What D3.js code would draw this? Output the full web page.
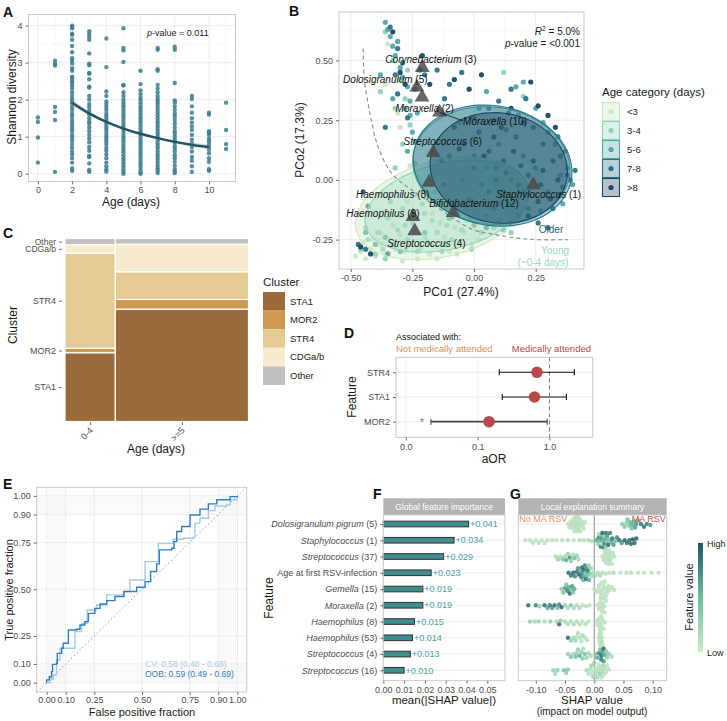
<!DOCTYPE html>
<html>
<head>
<meta charset="utf-8">
<title></title>
<script src="https://d3js.org/d3.v7.min.js"></script>
<style>
body { margin: 0; background: #fff; }
svg { display: block; }
</style>
</head>
<body>
<div id="chart-container"></div>
<script>
// ---------------- data: A (Shannon diversity by age) ----------------
const ageDays = [0, 1, 2, 3, 4, 5, 6, 7, 8, 9, 10, 11];
const shannonAge0 = [1.52, 1.40, 0.98, 0.30];
const shannonAge1 = [3.05, 2.97, 2.92, 1.80, 1.67, 1.45, 0.05];
const shannonAge2 = [4.0, 3.97, 3.93, 3.78, 3.75, 3.62, 3.45, 3.28, 3.12, 3.05, 2.98, 2.85, 2.78, 2.62, 2.58, 2.5, 2.45, 2.38, 2.3, 2.2, 2.1, 2.02, 1.95, 1.9, 1.8, 1.72, 1.62, 1.55, 1.45, 1.38, 1.3, 1.22, 1.15, 1.05, 0.98, 0.9, 0.8, 0.7, 0.6, 0.52, 0.42, 0.3, 0.15, 0.08];
const shannonAge3 = [3.85, 3.78, 3.7, 3.62, 3.25, 2.97, 2.93, 2.72, 2.7, 2.55, 2.35, 2.33, 2.1, 2.0, 1.88, 1.8, 1.7, 1.6, 1.5, 1.42, 1.35, 1.25, 1.15, 1.05, 0.95, 0.85, 0.72, 0.62, 0.48, 0.45, 0.28, 0.1, 0.05];
const shannonAge4 = [3.65, 2.88, 2.22, 2.1, 1.95, 1.88, 1.8, 1.72, 1.62, 1.55, 1.48, 1.4, 1.32, 1.25, 1.18, 1.1, 1.02, 0.95, 0.88, 0.8, 0.7, 0.62, 0.52, 0.42, 0.3, 0.2, 0.12, 0.06];
const shannonAge5 = [3.93, 3.4, 3.33, 3.02, 2.4, 2.38, 2.2, 2.1, 2.0, 1.92, 1.85, 1.78, 1.7, 1.62, 1.55, 1.48, 1.4, 1.32, 1.25, 1.18, 1.1, 1.02, 0.95, 0.88, 0.8, 0.72, 0.65, 0.58, 0.5, 0.42, 0.35, 0.28, 0.2, 0.12, 0.05, 0.0];
const shannonAge6 = [2.78, 2.42, 2.25, 2.15, 2.05, 1.98, 1.9, 1.82, 1.75, 1.68, 1.6, 1.52, 1.45, 1.38, 1.3, 1.22, 1.15, 1.08, 1.0, 0.92, 0.85, 0.78, 0.7, 0.62, 0.55, 0.48, 0.4, 0.32, 0.25, 0.18, 0.1, 0.03, 0.0];
const shannonAge7 = [3.4, 3.35, 2.82, 2.78, 2.4, 2.3, 2.2, 2.1, 2.02, 1.95, 1.88, 1.8, 1.72, 1.65, 1.58, 1.5, 1.42, 1.35, 1.28, 1.2, 1.12, 1.05, 0.98, 0.9, 0.82, 0.75, 0.68, 0.6, 0.52, 0.45, 0.38, 0.3, 0.22, 0.15, 0.08, 0.02];
const shannonAge8 = [3.43, 3.35, 2.45, 1.98, 1.92, 1.82, 1.72, 1.62, 1.55, 1.45, 1.35, 1.25, 1.15, 1.08, 1.0, 0.92, 0.85, 0.75, 0.68, 0.6, 0.5, 0.42, 0.32, 0.22, 0.12, 0.05, 0.02];
const shannonAge9 = [2.1, 2.02, 1.82, 1.65, 1.5, 1.38, 1.28, 1.18, 1.05, 0.92, 0.82, 0.72, 0.6, 0.45, 0.35, 0.2, 0.05];
const shannonAge10 = [1.65, 1.6, 1.15, 1.1, 1.05, 0.95, 0.88, 0.8, 0.72, 0.65, 0.55, 0.42, 0.32, 0.12, 0.08];
const shannonAge11 = [1.92, 1.18, 0.8, 0.67];
const shannonByAge = [shannonAge0, shannonAge1, shannonAge2, shannonAge3, shannonAge4, shannonAge5,
    shannonAge6, shannonAge7, shannonAge8, shannonAge9, shannonAge10, shannonAge11];
const fitAge = [2, 3, 4, 5, 6, 7, 8, 9, 10];
const fitMean = [1.92, 1.63, 1.40, 1.22, 1.08, 0.96, 0.86, 0.78, 0.72];
const fitLow = [1.84, 1.58, 1.37, 1.19, 1.05, 0.93, 0.83, 0.73, 0.65];
const fitHigh = [2.00, 1.68, 1.43, 1.25, 1.11, 0.99, 0.89, 0.83, 0.79];

// ---------------- data: B (PCoA) ----------------
const ageCats = ['<3', '3-4', '5-6', '7-8', '>8'];
const ageColors = ['#cce8c3', '#8ed3bb', '#52a6a6', '#2a7389', '#1a4862'];
const pcoaLt3 = [[-0.48,-0.32],[-0.46,-0.30],[-0.44,-0.33],[-0.42,-0.29],[-0.40,-0.32],[-0.38,-0.27],[-0.36,-0.31],[-0.34,-0.25],[-0.32,-0.29],[-0.30,-0.23],[-0.28,-0.30],[-0.26,-0.27],[-0.24,-0.20],[-0.22,-0.29],[-0.20,-0.24],[-0.18,-0.31],[-0.16,-0.27],[-0.14,-0.18],[-0.12,-0.24],[-0.10,-0.30],[-0.08,-0.20],[-0.06,-0.26],[-0.04,-0.22],[-0.01,-0.27],[0.02,-0.25],[-0.30,-0.15],[-0.27,-0.09],[-0.22,0.01],[-0.35,0.57],[-0.31,0.28],[-0.19,-0.08],[-0.25,-0.13],[-0.33,-0.19],[-0.45,-0.26],[-0.15,-0.33],[-0.03,-0.17],[-0.11,-0.12],[-0.20,-0.04],[-0.38,-0.22],[-0.41,-0.25],[-0.29,-0.34],[-0.17,-0.14],[-0.07,-0.31],[-0.23,-0.33],[-0.13,-0.09],[-0.26,0.06],[-0.36,0.40],[-0.30,0.22]];
const pcoa3to4 = [[-0.46,-0.29],[-0.43,-0.25],[-0.39,-0.22],[-0.37,-0.29],[-0.35,-0.16],[-0.33,-0.27],[-0.31,-0.21],[-0.29,-0.12],[-0.27,-0.25],[-0.25,-0.18],[-0.23,-0.30],[-0.21,-0.10],[-0.19,-0.26],[-0.17,-0.17],[-0.15,-0.22],[-0.13,-0.30],[-0.11,-0.19],[-0.09,-0.25],[-0.07,-0.13],[-0.05,-0.21],[-0.02,-0.16],[0.03,-0.22],[0.08,-0.20],[-0.36,0.62],[-0.33,0.50],[-0.30,0.42],[-0.28,0.34],[-0.26,0.23],[-0.29,0.15],[-0.24,0.07],[-0.18,0.02],[-0.38,0.37],[-0.32,0.05],[0.12,0.45],[0.20,0.35],[0.06,-0.12],[-0.40,-0.31],[-0.44,-0.20],[-0.34,-0.09],[-0.24,-0.06],[-0.16,-0.05],[-0.08,-0.09],[0.00,-0.11],[-0.20,-0.14],[-0.28,-0.19],[-0.12,-0.27],[0.10,-0.17],[0.15,-0.22],[-0.32,0.30],[-0.27,0.46],[-0.06,0.24],[0.02,0.04],[-0.36,-0.33],[-0.01,-0.29]];
const pcoa5to6 = [[-0.36,0.66],[-0.35,0.63],[-0.34,0.60],[-0.33,0.56],[-0.32,0.52],[-0.30,0.47],[-0.29,0.43],[-0.27,0.39],[-0.28,0.30],[-0.26,0.27],[-0.25,0.20],[-0.27,0.12],[-0.24,0.16],[-0.33,0.34],[-0.38,0.44],[0.00,0.10],[0.05,0.05],[0.10,0.15],[0.15,0.00],[0.20,0.10],[0.25,0.05],[0.30,-0.05],[0.35,0.02],[0.38,0.05],[0.30,0.20],[0.25,0.30],[0.18,0.27],[0.10,-0.10],[0.05,-0.15],[-0.05,0.00],[-0.10,0.10],[0.08,0.25],[0.28,0.24],[0.33,0.15],[0.15,-0.18],[0.22,-0.12],[-0.44,-0.22],[-0.40,-0.27],[-0.36,-0.24],[-0.30,-0.30],[-0.20,-0.22],[-0.10,-0.16],[0.00,-0.19],[0.12,-0.21],[0.20,0.41],[0.05,0.37],[0.17,0.39],[-0.31,0.58],[-0.26,0.33],[-0.23,0.28],[0.02,0.30],[0.13,0.21],[0.36,-0.10],[0.40,-0.02],[0.27,-0.13]];
const pcoa7to8 = [[-0.34,0.64],[-0.31,0.55],[-0.29,0.49],[-0.31,0.36],[-0.27,0.26],[-0.22,0.46],[-0.20,0.44],[-0.15,0.46],[-0.12,0.34],[-0.10,0.40],[-0.05,0.45],[-0.36,0.22],[-0.45,-0.05],[-0.43,-0.11],[-0.47,-0.27],[-0.44,-0.29],[-0.35,-0.31],[-0.08,0.22],[-0.04,0.15],[0.02,0.20],[0.06,0.12],[0.12,0.08],[0.17,0.18],[0.22,0.02],[0.27,-0.02],[0.32,0.08],[0.36,-0.03],[0.39,0.00],[0.12,-0.05],[0.03,-0.02],[-0.02,-0.08],[0.08,-0.12],[0.18,-0.15],[0.26,-0.18],[0.32,-0.12],[0.35,0.10],[0.24,0.22],[0.14,0.28],[0.06,0.30],[0.00,0.26],[0.10,0.33],[0.28,0.15],[0.34,0.18],[0.37,0.12],[0.15,0.38],[0.21,0.34],[-0.12,-0.02],[0.05,-0.20],[0.30,-0.20],[-0.32,0.44],[-0.24,0.38],[0.19,0.06],[0.09,0.05],[0.41,0.04]];
const pcoaGt8 = [[-0.33,0.62],[-0.30,0.45],[-0.21,0.52],[-0.18,0.40],[-0.08,0.42],[-0.02,0.38],[0.03,0.44],[-0.46,-0.28],[-0.42,-0.31],[-0.13,0.08],[0.00,0.05],[0.04,0.10],[0.08,0.18],[0.13,0.03],[0.16,0.12],[0.20,-0.05],[0.24,0.08],[0.28,0.04],[0.31,-0.08],[0.34,0.00],[0.38,0.02],[0.30,0.27],[0.26,0.31],[0.20,0.24],[0.11,0.22],[0.06,-0.05],[0.14,-0.10],[0.22,-0.15],[0.09,0.00],[-0.06,0.13],[0.35,-0.06],[0.26,-0.09],[0.33,0.22],[0.15,0.30],[-0.28,0.40],[0.23,0.41],[0.18,-0.02]];
const pcoaByAge = [pcoaLt3, pcoa3to4, pcoa5to6, pcoa7to8, pcoaGt8];
// 95% ellipses per age category: centre, radii, rotation (deg)
const ellipseCx = [-0.13, -0.11, 0.07, 0.075, 0.10];
const ellipseCy = [-0.12, -0.11, 0.06, 0.06, 0.05];
const ellipseRx = [0.36, 0.34, 0.32, 0.325, 0.28];
const ellipseRy = [0.20, 0.18, 0.245, 0.25, 0.23];
const ellipseAngle = [15, 14, -8, -12, -10];
const ellipseOpacity = [0.4, 0.35, 0.38, 0.4, 0.42];
// cluster centroids
const centroidGenus = ['Corynebacterium', 'Dolosigranulum', 'Moraxella', 'Moraxella', 'Streptococcus', 'Haemophilus', 'Bifidobacterium', 'Haemophilus', 'Streptococcus', 'Staphylococcus'];
const centroidNum = ['(3)', '(5)', '(2)', '(10)', '(6)', '(8)', '(12)', '(9)', '(4)', '(1)'];
const centroidX = [-0.21, -0.232, -0.211, -0.14, -0.166, -0.183, -0.085, -0.248, -0.241, 0.24];
const centroidY = [0.47, 0.388, 0.346, 0.283, 0.114, -0.011, -0.137, -0.154, -0.214, -0.021];
const centroidLabelX = [-0.175, -0.36, -0.20, 0.085, -0.127, -0.33, 0.0, -0.37, -0.193, 0.262];
const centroidLabelY = [0.506, 0.42, 0.297, 0.243, 0.160, -0.06, -0.098, -0.14, -0.268, -0.062];
const boundaryX = [-0.45, -0.445, -0.43, -0.417, -0.39, -0.336, -0.27, -0.193, -0.10, -0.004, 0.065, 0.15, 0.25, 0.38];
const boundaryY = [0.55, 0.42, 0.32, 0.25, 0.14, 0.03, -0.03, -0.084, -0.15, -0.209, -0.225, -0.24, -0.25, -0.25];

// ---------------- data: C (cluster mosaic) ----------------
const clusters = ['STA1', 'MOR2', 'STR4', 'CDGa/b', 'Other'];
const clusterColors = ['#9c6b3c', '#cf9a50', '#e3cb93', '#f6ebcf', '#c0c0c0'];
const ageGroups = ['0-4', '>=5'];
const ageGroupN = [51, 135];
const propAge04 = [0.376, 0.024, 0.520, 0.046, 0.034];
const propAge5 = [0.614, 0.053, 0.151, 0.151, 0.031];

// ---------------- data: D (adjusted odds ratios) ----------------
const orFeatures = ['STR4', 'STA1', 'MOR2'];
const orValue = [0.67, 0.62, 0.144];
const orLow = [0.20, 0.22, 0.0224];
const orHigh = [2.22, 1.72, 0.93];
const orSignificant = [false, false, true];

// ---------------- data: E (ROC curves) ----------------
const rocOobFpr = [0, 0, 0.014, 0.026, 0.031, 0.052, 0.056, 0.079, 0.087, 0.114, 0.157, 0.175, 0.201, 0.219, 0.253, 0.280, 0.315, 0.358, 0.406, 0.472, 0.516, 0.545, 0.577, 0.591, 0.656, 0.668, 0.682, 0.708, 0.752, 0.804, 0.848, 0.892, 0.962, 1];
const rocOobTpr = [0, 0.015, 0.032, 0.059, 0.098, 0.104, 0.157, 0.184, 0.211, 0.282, 0.286, 0.309, 0.327, 0.371, 0.398, 0.421, 0.439, 0.461, 0.488, 0.511, 0.541, 0.595, 0.636, 0.711, 0.720, 0.755, 0.809, 0.836, 0.898, 0.929, 0.957, 0.979, 0.996, 1];
const rocCvFpr = [0, 0.02, 0.035, 0.052, 0.070, 0.131, 0.149, 0.184, 0.213, 0.262, 0.315, 0.402, 0.437, 0.516, 0.586, 0.664, 0.717, 0.769, 0.778, 0.804, 0.848, 0.883, 0.944, 0.962, 1];
const rocCvTpr = [0, 0.02, 0.041, 0.121, 0.184, 0.184, 0.273, 0.318, 0.389, 0.416, 0.470, 0.488, 0.550, 0.648, 0.746, 0.768, 0.773, 0.779, 0.854, 0.880, 0.921, 0.946, 0.952, 0.979, 1];
const rocMajor = [0, 0.1, 0.25, 0.5, 0.75, 0.9, 1];
const rocMinor = [0.01, 0.02, 0.03, 0.04, 0.05, 0.06, 0.07, 0.08, 0.09, 0.91, 0.92, 0.93, 0.94, 0.95, 0.96, 0.97, 0.98, 0.99];

// ---------------- data: F (global SHAP importance) ----------------
const featureName = ['Dolosigranulum pigrum', 'Staphylococcus', 'Streptococcus', 'Age at first RSV-infection', 'Gemella', 'Moraxella', 'Haemophilus', 'Haemophilus', 'Streptococcus', 'Streptococcus'];
const featureSuffix = [' (5)', ' (1)', ' (37)', '', ' (15)', ' (2)', ' (8)', ' (53)', ' (4)', ' (16)'];
const featureItalic = [true, true, true, false, true, true, true, true, true, true];
const meanAbsShap = [0.041, 0.034, 0.029, 0.023, 0.019, 0.019, 0.015, 0.014, 0.013, 0.010];

// ---------------- data: G (local SHAP values: [shap, feature value 0-1]) ----------------
const shapDolosigranulum = [[-0.045,0.1],[-0.042,0.1],[-0.04,0.1],[-0.038,0.15],[-0.036,0.1],[-0.035,0.1],[-0.034,0.1],[-0.033,0.1],[-0.032,0.1],[-0.031,0.1],[-0.03,0.1],[-0.03,0.1],[-0.029,0.1],[-0.028,0.1],[-0.027,0.1],[-0.026,0.1],[-0.025,0.1],[-0.024,0.1],[-0.022,0.1],[-0.02,0.1],[-0.018,0.1],[-0.016,0.1],[-0.035,0.1],[-0.03,0.1],[-0.025,0.1],[-0.028,0.1],[-0.032,0.1],[0.048,0.35],[0.052,0.4],[0.055,0.3],[0.057,0.5],[0.06,0.45],[0.062,0.55],[0.064,0.4],[0.066,0.6],[0.068,0.5],[0.07,0.65],[0.072,0.7],[0.075,0.6],[0.08,0.85],[0.085,0.9],[0.09,0.8],[0.096,0.7]];
const shapStaphylococcus = [[-0.118,0.1],[-0.11,0.1],[-0.105,0.1],[-0.1,0.1],[-0.095,0.1],[-0.09,0.1],[-0.085,0.1],[-0.08,0.1],[-0.072,0.1],[-0.065,0.1],[-0.055,0.1],[-0.045,0.15],[-0.035,0.1],[-0.025,0.15],[-0.018,0.1],[-0.01,0.15],[-0.004,0.2],[0.004,0.6],[0.006,0.3],[0.008,0.8],[0.01,0.5],[0.011,0.9],[0.012,0.4],[0.013,0.7],[0.014,0.95],[0.015,0.5],[0.016,0.8],[0.017,0.3],[0.018,0.9],[0.019,0.6],[0.02,0.85],[0.021,0.4],[0.022,0.7],[0.024,0.9],[0.025,0.5],[0.027,0.8],[0.029,0.6],[0.031,0.9],[0.033,0.7],[0.036,0.5],[0.039,0.8],[0.043,0.9],[0.047,0.7],[0.052,0.95],[0.056,0.85],[0.06,0.9],[0.063,0.95],[0.066,1.0],[0.069,0.9],[0.072,0.95],[0.008,0.2],[0.012,0.15],[0.02,0.3]];
const shapStreptococcus37 = [[-0.066,0.2],[-0.062,0.3],[-0.058,0.15],[-0.054,0.4],[-0.05,0.25],[-0.048,0.6],[-0.045,0.3],[-0.042,0.7],[-0.04,0.35],[-0.037,0.2],[-0.034,0.5],[-0.03,0.3],[-0.027,0.2],[0.014,0.1],[0.016,0.1],[0.018,0.1],[0.019,0.1],[0.02,0.1],[0.021,0.1],[0.022,0.1],[0.023,0.1],[0.024,0.1],[0.025,0.1],[0.026,0.1],[0.027,0.1],[0.028,0.1],[0.03,0.1],[0.032,0.1],[0.034,0.1],[0.022,0.1],[0.024,0.1],[0.026,0.1],[0.02,0.1]];
const shapAgeFirstRsv = [[-0.044,0.9],[-0.04,0.85],[-0.036,0.95],[-0.033,0.8],[-0.03,0.9],[-0.028,0.7],[-0.026,0.95],[-0.024,0.6],[-0.022,0.85],[-0.021,0.9],[-0.02,0.75],[-0.019,0.5],[-0.018,0.95],[-0.017,0.6],[-0.016,0.8],[-0.015,0.4],[-0.014,0.9],[-0.013,0.7],[-0.012,0.5],[-0.011,0.85],[-0.01,0.3],[-0.009,0.6],[-0.008,0.4],[-0.006,0.3],[-0.004,0.25],[-0.002,0.2],[0.002,0.2],[0.006,0.15],[0.01,0.2],[0.014,0.15],[0.02,0.1],[0.026,0.1],[0.033,0.15],[0.045,0.1],[0.055,0.1],[0.063,0.1],[0.075,0.1],[0.085,0.1],[0.098,0.1],[0.11,0.1]];
const shapGemella = [[-0.056,0.3],[-0.053,0.5],[-0.05,0.7],[-0.048,0.4],[-0.046,0.8],[-0.044,0.6],[-0.042,0.9],[-0.04,0.5],[-0.038,0.7],[-0.036,0.4],[-0.034,0.6],[0.0,0.1],[0.004,0.1],[0.008,0.1],[0.01,0.1],[0.012,0.1],[0.014,0.1],[0.016,0.1],[0.018,0.1],[0.02,0.1],[0.022,0.1],[0.024,0.1],[0.026,0.1],[0.03,0.1],[0.034,0.1],[0.012,0.1],[0.016,0.1],[0.02,0.1],[0.008,0.1]];
const shapMoraxella2 = [[-0.113,0.9],[-0.1,0.8],[-0.094,0.3],[-0.085,0.9],[-0.08,0.6],[-0.076,0.85],[-0.072,0.7],[-0.068,0.9],[-0.063,0.5],[-0.06,0.8],[-0.056,0.95],[-0.05,0.3],[-0.045,0.2],[-0.04,0.4],[-0.035,0.2],[-0.03,0.15],[-0.025,0.2],[-0.02,0.1],[-0.014,0.15],[-0.008,0.1],[0.006,0.1],[0.008,0.1],[0.01,0.1],[0.012,0.1],[0.013,0.1],[0.014,0.1],[0.016,0.1],[0.018,0.1],[0.02,0.1],[0.011,0.1],[0.015,0.1],[0.017,0.1]];
const shapHaemophilus8 = [[-0.11,0.3],[-0.102,0.2],[-0.095,0.25],[-0.085,0.2],[-0.075,0.3],[-0.065,0.2],[-0.06,0.9],[-0.058,0.4],[-0.05,0.2],[-0.045,0.15],[-0.04,0.2],[-0.035,0.15],[-0.03,0.2],[-0.025,0.15],[-0.02,0.1],[-0.015,0.15],[-0.01,0.1],[0.004,0.1],[0.006,0.1],[0.008,0.1],[0.01,0.1],[0.012,0.1],[0.014,0.1],[0.016,0.1],[0.018,0.1],[0.01,0.1],[0.012,0.1]];
const shapHaemophilus53 = [[-0.045,0.9],[-0.04,0.3],[-0.036,0.2],[-0.032,0.25],[-0.028,0.2],[-0.024,0.15],[-0.02,0.2],[-0.016,0.15],[-0.012,0.1],[-0.03,0.1],[-0.022,0.1],[0.008,0.1],[0.009,0.1],[0.01,0.1],[0.011,0.1],[0.012,0.1],[0.013,0.1],[0.014,0.1],[0.01,0.1],[0.012,0.1],[0.011,0.1],[0.013,0.1],[0.009,0.1]];
const shapStreptococcus4 = [[-0.045,0.3],[-0.04,0.4],[-0.036,0.2],[-0.032,0.5],[-0.028,0.3],[-0.025,0.6],[-0.022,0.35],[-0.019,0.2],[-0.016,0.45],[-0.013,0.3],[-0.01,0.25],[-0.006,0.2],[-0.03,0.3],[-0.02,0.4],[0.002,0.4],[0.005,0.6],[0.008,0.8],[0.01,0.5],[0.012,0.9],[0.014,0.7],[0.016,0.95],[0.018,0.6],[0.02,0.4],[0.022,0.3],[0.025,0.3],[0.03,0.2],[0.012,0.85],[0.016,0.7]];
const shapStreptococcus16 = [[-0.07,0.3],[-0.067,0.2],[-0.063,0.35],[-0.052,0.5],[-0.048,0.3],[-0.045,0.4],[-0.013,0.2],[-0.01,0.1],[-0.007,0.15],[-0.004,0.1],[-0.002,0.2],[0.0,0.1],[0.002,0.15],[0.004,0.1],[0.006,0.2],[0.008,0.1],[0.01,0.15],[0.012,0.1],[0.014,0.2],[0.016,0.1],[0.018,0.15],[0.02,0.1],[0.022,0.1],[0.025,0.1],[-0.005,0.3],[0.005,0.25],[0.01,0.3],[0.0,0.3],[0.015,0.25]];
const shapRows = [shapDolosigranulum, shapStaphylococcus, shapStreptococcus37, shapAgeFirstRsv, shapGemella,
    shapMoraxella2, shapHaemophilus8, shapHaemophilus53, shapStreptococcus4, shapStreptococcus16];

// ---------------- drawing ----------------
const font = '"Liberation Sans", Arial, Helvetica, sans-serif';
const tickColor = '#4d4d4d';
const gridMajor = '#ebebeb';
const gridMinor = '#f5f5f5';
const borderColor = '#c9c9c9';

const svg = d3.select('#chart-container').append('svg')
    .attr('width', 727).attr('height', 721)
    .style('font-family', font);

function addText(x, y, txt, size, opts = {}) {
    const t = svg.append('text').attr('x', x).attr('y', y)
        .attr('font-size', size).attr('fill', opts.fill || '#1a1a1a')
        .attr('text-anchor', opts.anchor || 'start')
        .text(txt);
    if (opts.weight) t.attr('font-weight', opts.weight);
    if (opts.italic) t.attr('font-style', 'italic');
    if (opts.rotate) t.attr('transform', `rotate(${opts.rotate},${x},${y})`);
    return t;
}

function frame(x0, y0, x1, y1) {
    svg.append('rect').attr('x', x0).attr('y', y0)
        .attr('width', x1 - x0).attr('height', y1 - y0)
        .attr('fill', 'none').attr('stroke', borderColor).attr('stroke-width', 1);
}

function vGrid(xs, vals, y0, y1, color, w) {
    svg.append('g').selectAll('line').data(vals).join('line')
        .attr('x1', d => xs(d)).attr('x2', d => xs(d))
        .attr('y1', y0).attr('y2', y1)
        .attr('stroke', color).attr('stroke-width', w);
}

function hGrid(ys, vals, x0, x1, color, w) {
    svg.append('g').selectAll('line').data(vals).join('line')
        .attr('y1', d => ys(d)).attr('y2', d => ys(d))
        .attr('x1', x0).attr('x2', x1)
        .attr('stroke', color).attr('stroke-width', w);
}

function drawAxis(axis, tx, ty, size = 9) {
    const g = svg.append('g').attr('transform', `translate(${tx},${ty})`).call(axis);
    g.attr('font-family', font).attr('font-size', size);
    g.select('.domain').remove();
    g.selectAll('.tick line').attr('stroke', '#333').attr('stroke-width', 0.7);
    g.selectAll('.tick text').attr('fill', tickColor);
    return g;
}

// panel letters
[['A', 3, 17], ['B', 289, 16], ['C', 3, 238], ['D', 344, 338], ['E', 3, 489], ['F', 373, 499], ['G', 510, 499]]
    .forEach(p => addText(p[1], p[2], p[0], 14, { weight: 'bold', fill: '#111' }));

// ===== A =====
(function panelA() {
    const x0 = 28.5, x1 = 235.5, y0 = 14.5, y1 = 181.5;
    const xA = d3.scaleLinear().domain([-0.55, 11.55]).range([x0, x1]);
    const yA = d3.scaleLinear().domain([-0.21, 4.3]).range([y1, y0]);
    vGrid(xA, [1, 3, 5, 7, 9, 11], y0, y1, gridMinor, 0.6);
    hGrid(yA, [0.5, 1.5, 2.5, 3.5], x0, x1, gridMinor, 0.6);
    vGrid(xA, [0, 2, 4, 6, 8, 10], y0, y1, gridMajor, 0.9);
    hGrid(yA, [0, 1, 2, 3, 4], x0, x1, gridMajor, 0.9);

    const pts = [];
    shannonByAge.forEach((vals, i) => vals.forEach(v => pts.push([ageDays[i], v])));
    svg.append('g').selectAll('circle').data(pts).join('circle')
        .attr('cx', d => xA(d[0])).attr('cy', d => yA(d[1])).attr('r', 2.2)
        .attr('fill', '#3b7d8f').attr('fill-opacity', 0.85);

    const fit = fitAge.map((a, i) => ({ a, m: fitMean[i], lo: fitLow[i], hi: fitHigh[i] }));
    svg.append('path').datum(fit)
        .attr('d', d3.area().curve(d3.curveMonotoneX).x(d => xA(d.a)).y0(d => yA(d.lo)).y1(d => yA(d.hi)))
        .attr('fill', '#9a9a9a').attr('fill-opacity', 0.45);
    svg.append('path').datum(fit)
        .attr('d', d3.line().curve(d3.curveMonotoneX).x(d => xA(d.a)).y(d => yA(d.m)))
        .attr('fill', 'none').attr('stroke', '#1b5566').attr('stroke-width', 2.4);
    frame(x0, y0, x1, y1);

    drawAxis(d3.axisBottom(xA).tickValues([0, 2, 4, 6, 8, 10]).tickSize(3).tickPadding(2), 0, y1);
    drawAxis(d3.axisLeft(yA).tickValues([0, 1, 2, 3, 4]).tickFormat(d3.format('d')).tickSize(3), x0, 0);

    const t = addText(147, 36, '', 9);
    t.append('tspan').attr('font-style', 'italic').text('p');
    t.append('tspan').text('-value  = 0.011');
    addText(131, 206, 'Age (days)', 12, { anchor: 'middle' });
    addText(16, 97, 'Shannon diversity', 12, { anchor: 'middle', rotate: -90 });
})();

// ===== B =====
(function panelB() {
    const x0 = 339, x1 = 584, y0 = 12, y1 = 269;
    const xB = d3.scaleLinear().domain([-0.548, 0.446]).range([x0, x1]);
    const yB = d3.scaleLinear().domain([-0.373, 0.703]).range([y1, y0]);
    vGrid(xB, [-0.375, -0.125, 0.125, 0.375], y0, y1, gridMinor, 0.6);
    hGrid(yB, [-0.125, 0.125, 0.375, 0.625], x0, x1, gridMinor, 0.6);
    vGrid(xB, [-0.5, -0.25, 0, 0.25], y0, y1, gridMajor, 0.9);
    hGrid(yB, [-0.25, 0, 0.25, 0.5], x0, x1, gridMajor, 0.9);

    pcoaByAge.forEach((pts, i) => {
        svg.append('g').selectAll('circle').data(pts).join('circle')
            .attr('cx', d => xB(d[0])).attr('cy', d => yB(d[1])).attr('r', 2.6)
            .attr('fill', ageColors[i]).attr('fill-opacity', 0.95);
    });

    function ellipsePath(i) {
        const a = ellipseAngle[i] * Math.PI / 180;
        const pts = d3.range(0, 73).map(k => {
            const t = k / 72 * 2 * Math.PI;
            const ex = ellipseCx[i] + ellipseRx[i] * Math.cos(t) * Math.cos(a) - ellipseRy[i] * Math.sin(t) * Math.sin(a);
            const ey = ellipseCy[i] + ellipseRx[i] * Math.cos(t) * Math.sin(a) + ellipseRy[i] * Math.sin(t) * Math.cos(a);
            return [xB(ex), yB(ey)];
        });
        return d3.line()(pts) + 'Z';
    }
    ageCats.forEach((c, i) => {
        svg.append('path').attr('d', ellipsePath(i))
            .attr('fill', ageColors[i]).attr('fill-opacity', ellipseOpacity[i])
            .attr('stroke', ageColors[i]).attr('stroke-width', 1.1);
    });

    const bnd = boundaryX.map((x, i) => [xB(x), yB(boundaryY[i])]);
    svg.append('path').attr('d', d3.line().curve(d3.curveCatmullRom)(bnd))
        .attr('fill', 'none').attr('stroke', '#8a8a8a').attr('stroke-width', 1.1)
        .attr('stroke-dasharray', '4,3');

    // centroids
    const sym = d3.symbol().type(d3.symbolTriangle).size(95);
    centroidX.forEach((cx, i) => {
        svg.append('path').attr('d', sym())
            .attr('transform', `translate(${xB(cx)},${yB(centroidY[i])})`)
            .attr('fill', '#4a4a4a').attr('fill-opacity', 0.85);
    });
    centroidGenus.forEach((g, i) => {
        const t = addText(xB(centroidLabelX[i]), yB(centroidLabelY[i]) + 3.5, '', 10, { anchor: 'middle', fill: '#111' });
        t.append('tspan').attr('font-style', 'italic').text(g);
        t.append('tspan').text(' ' + centroidNum[i]);
        if (centroidNum[i] === '(10)') {
            const bb = t.node().getBBox();
            svg.append('line')
                .attr('x1', xB(centroidX[i])).attr('y1', yB(centroidY[i]))
                .attr('x2', bb.x).attr('y2', bb.y + bb.height / 2 - 1)
                .attr('stroke', '#111').attr('stroke-width', 0.8);
        }
    });
    frame(x0, y0, x1, y1);

    const r2 = addText(580, 35, '', 10, { anchor: 'end' });
    r2.append('tspan').attr('font-style', 'italic').text('R');
    r2.append('tspan').attr('font-size', 7).attr('dy', -4).text('2');
    r2.append('tspan').attr('dy', 4).text(' = 5.0%');
    const pv = addText(580, 47, '', 10, { anchor: 'end' });
    pv.append('tspan').attr('font-style', 'italic').text('p');
    pv.append('tspan').text('-value = <0.001');

    addText(551, 233, 'Older', 10, { anchor: 'middle', fill: '#2c5f7c' });
    addText(555, 254, 'Young', 10, { anchor: 'middle', fill: '#95d9c3' });
    addText(543, 266, '(~0-4  days)', 10, { anchor: 'middle', fill: '#95d9c3' });

    drawAxis(d3.axisBottom(xB).tickValues([-0.5, -0.25, 0, 0.25]).tickSize(3).tickFormat(d => d.toFixed(2)), 0, y1);
    drawAxis(d3.axisLeft(yB).tickValues([-0.25, 0, 0.25, 0.5]).tickSize(3).tickFormat(d => d.toFixed(2)), x0, 0);
    addText(461, 296, 'PCo1 (27.4%)', 12, { anchor: 'middle' });
    addText(304, 140, 'PCo2 (17.3%)', 12, { anchor: 'middle', rotate: -90 });

    // legend
    addText(602, 96, 'Age category (days)', 11.5);
    ageCats.forEach((c, i) => {
        const ky = 102.5 + i * 19;
        svg.append('rect').attr('x', 602.5).attr('y', ky).attr('width', 17).attr('height', 18)
            .attr('fill', '#fff');
        svg.append('rect').attr('x', 602.5).attr('y', ky).attr('width', 17).attr('height', 18)
            .attr('fill', ageColors[i]).attr('fill-opacity', 0.33)
            .attr('stroke', ageColors[i]).attr('stroke-width', 1.1);
        svg.append('circle').attr('cx', 611).attr('cy', ky + 9).attr('r', 2.6).attr('fill', ageColors[i]);
        addText(627, ky + 12.5, c, 9.5, { fill: '#222' });
    });
})();

// ===== C =====
(function panelC() {
    const total = d3.sum(ageGroupN);
    const xC = d3.scaleLinear().domain([0, total]).range([65, 248.5]);
    const yC = d3.scaleLinear().domain([0, 1]).range([421.5, 238.5]);
    const cols = [propAge04, propAge5];
    let start = 0;
    const centers = [];
    cols.forEach((props, j) => {
        const xa = xC(start), xb = xC(start + ageGroupN[j]);
        centers.push(start + ageGroupN[j] / 2);
        let acc = 0;
        props.forEach((p, k) => {
            svg.append('rect')
                .attr('x', xa).attr('width', xb - xa)
                .attr('y', yC(acc + p)).attr('height', yC(acc) - yC(acc + p))
                .attr('fill', clusterColors[k]).attr('stroke', '#fff').attr('stroke-width', 1.2);
            acc += p;
        });
        start += ageGroupN[j];
    });
    // y labels at the left column's segment centres
    const yCentres = [];
    let acc = 0;
    propAge04.forEach(p => { yCentres.push(acc + p / 2); acc += p; });
    const gy = drawAxis(d3.axisLeft(yC).tickValues(yCentres).tickFormat((d, i) => clusters[i]).tickSize(3), 62, 0, 9);
    gy.selectAll('.tick text').filter((d, i) => i >= 3).attr('font-size', 8.5);
    const gx = drawAxis(d3.axisBottom(xC).tickValues(centers).tickFormat((d, i) => ageGroups[i]).tickSize(3), 0, 422, 9);
    gx.selectAll('.tick text')
        .attr('text-anchor', 'end').attr('dy', 0).attr('y', 0)
        .attr('transform', 'translate(3,9) rotate(-45)');
    addText(156, 453, 'Age (days)', 12, { anchor: 'middle' });
    addText(17, 325, 'Cluster', 12, { anchor: 'middle', rotate: -90 });

    addText(263, 286, 'Cluster', 11.5);
    clusters.forEach((c, i) => {
        const ky = 292 + i * 18.6;
        svg.append('rect').attr('x', 263).attr('y', ky).attr('width', 22).attr('height', 18.6)
            .attr('fill', clusterColors[i]);
        addText(290, ky + 12.5, c, 9.5, { fill: '#222' });
    });
})();

// ===== D =====
(function panelD() {
    const x0 = 396, x1 = 592.7, y0 = 357.3, y1 = 437.3;
    const xD = d3.scaleLog().domain([0.0073, 4.0]).range([x0, x1]);
    const yD = d3.scalePoint().domain(orFeatures).range([372.3, 421.7]);
    vGrid(xD, [0.01, 0.1, 1], y0, y1, '#f2f2f2', 0.8);
    hGrid(yD, orFeatures, x0, x1, gridMajor, 0.9);
    svg.append('line').attr('x1', xD(1)).attr('x2', xD(1)).attr('y1', y0).attr('y2', y1)
        .attr('stroke', '#777').attr('stroke-width', 1).attr('stroke-dasharray', '4,3');
    orFeatures.forEach((f, i) => {
        const y = yD(f);
        const col = orSignificant[i] ? '#444' : '#111';
        svg.append('line').attr('x1', xD(orLow[i])).attr('x2', xD(orHigh[i])).attr('y1', y).attr('y2', y)
            .attr('stroke', col).attr('stroke-width', orSignificant[i] ? 1.8 : 1.1);
        [orLow[i], orHigh[i]].forEach(v => svg.append('line')
            .attr('x1', xD(v)).attr('x2', xD(v)).attr('y1', y - 3).attr('y2', y + 3)
            .attr('stroke', col).attr('stroke-width', 1.1));
        svg.append('circle').attr('cx', xD(orValue[i])).attr('cy', y).attr('r', 5.8).attr('fill', '#b94a4a');
        if (orSignificant[i]) addText(xD(orLow[i]) - 9, y + 4, '*', 10, { anchor: 'middle', fill: '#c0504d' });
    });
    frame(x0, y0, x1, y1);
    drawAxis(d3.axisBottom(xD).tickValues([0.01, 0.1, 1]).tickFormat(d3.format('.1f')).tickSize(3), 0, y1);
    drawAxis(d3.axisLeft(yD).tickSize(3), x0, 0);
    addText(494, 463, 'aOR', 12, { anchor: 'middle' });
    addText(356, 397, 'Feature', 12, { anchor: 'middle', rotate: -90 });
    addText(396, 340, 'Associated  with:', 9, { fill: '#111' });
    addText(396, 352, 'Not medically  attended', 9.5, { fill: '#d6925f' });
    addText(591, 352, 'Medically  attended', 9.5, { anchor: 'end', fill: '#b5484a' });
})();

// ===== E =====
(function panelE() {
    const x0 = 36.7, x1 = 246.7, y0 = 487.3, y1 = 692;
    const xE = d3.scaleLinear().domain([-0.052, 1.049]).range([x0, x1]);
    const yE = d3.scaleLinear().domain([-0.05, 1.046]).range([y1, y0]);
    vGrid(xE, rocMinor, y0, y1, '#f0f0f0', 0.6);
    hGrid(yE, rocMinor, x0, x1, '#f0f0f0', 0.6);
    vGrid(xE, rocMajor, y0, y1, gridMajor, 0.9);
    hGrid(yE, rocMajor, x0, x1, gridMajor, 0.9);
    svg.append('line').attr('x1', xE(-0.052)).attr('y1', yE(-0.052)).attr('x2', xE(1.046)).attr('y2', yE(1.046))
        .attr('stroke', '#999').attr('stroke-width', 1).attr('stroke-dasharray', '1.5,2.5');
    const step = d3.line().curve(d3.curveStepAfter).x(d => xE(d[0])).y(d => yE(d[1]));
    svg.append('path').datum(rocCvFpr.map((f, i) => [f, rocCvTpr[i]]))
        .attr('d', step).attr('fill', 'none').attr('stroke', '#a3cbe6').attr('stroke-width', 1.4);
    svg.append('path').datum(rocOobFpr.map((f, i) => [f, rocOobTpr[i]]))
        .attr('d', step).attr('fill', 'none').attr('stroke', '#2f7fc1').attr('stroke-width', 1.4);
    frame(x0, y0, x1, y1);
    drawAxis(d3.axisBottom(xE).tickValues(rocMajor).tickFormat(d => d.toFixed(2)).tickSize(3).tickPadding(2), 0, y1);
    drawAxis(d3.axisLeft(yE).tickValues(rocMajor).tickFormat(d => d.toFixed(2)).tickSize(3), x0, 0);
    addText(145, 667, 'CV: 0.58 (0.48  -  0.68)', 8.5, { fill: '#a8cde8' });
    addText(145, 676.5, 'OOB: 0.59 (0.49  -  0.69)', 8.5, { fill: '#2f7fc1' });
    addText(142, 716, 'False positive fraction', 11, { anchor: 'middle' });
    addText(13, 590, 'True positive fraction', 11, { anchor: 'middle', rotate: -90 });
})();

// ===== F =====
const rowY = d3.scalePoint().domain(d3.range(featureName.length)).range([524, 670.3]);
(function panelF() {
    const x0 = 383.3, x1 = 505, y0 = 515, y1 = 680.7;
    const xF = d3.scaleLinear().domain([0, 0.0585]).range([x0, x1]);
    svg.append('rect').attr('x', x0).attr('y', 498.3).attr('width', x1 - x0).attr('height', y0 - 498.3).attr('fill', '#b3b3b3');
    addText((x0 + x1) / 2, 510, 'Global feature importance', 8.5, { anchor: 'middle', fill: '#fff' });
    hGrid(rowY, d3.range(featureName.length), x0, x1, gridMajor, 0.9);
    svg.append('g').selectAll('rect').data(meanAbsShap).join('rect')
        .attr('x', xF(0)).attr('y', (d, i) => rowY(i) - 2.8)
        .attr('width', d => xF(d) - xF(0)).attr('height', 5.6)
        .attr('fill', '#3f8f91').attr('stroke', '#3a3a3a').attr('stroke-width', 1.1);
    svg.append('g').selectAll('text').data(meanAbsShap).join('text')
        .attr('x', d => xF(d) + 1.5).attr('y', (d, i) => rowY(i) + 3.2)
        .attr('font-size', 9).attr('fill', '#4aa1a5')
        .text(d => '+' + d.toFixed(3));
    frame(x0, y0, x1, y1);
    drawAxis(d3.axisBottom(xF).tickValues([0, 0.01, 0.02, 0.03, 0.04, 0.05]).tickFormat(d => d.toFixed(2)).tickSize(3), 0, y1);
    const gy = drawAxis(d3.axisLeft(rowY).tickSize(3), x0, 0);
    gy.selectAll('.tick text').each(function (d) {
        const t = d3.select(this).text('');
        t.append('tspan').attr('font-style', featureItalic[d] ? 'italic' : 'normal').text(featureName[d]);
        if (featureSuffix[d]) t.append('tspan').text(featureSuffix[d]);
    });
    addText(444, 704, 'mean(|SHAP value|)', 11.5, { anchor: 'middle' });
    addText(273, 598, 'Feature', 12, { anchor: 'middle', rotate: -90 });
})();

// ===== G =====
(function panelG() {
    const x0 = 518.3, x1 = 666.7, y0 = 515, y1 = 680.7;
    const xG = d3.scaleLinear().domain([-0.130, 0.124]).range([x0, x1]);
    const colorG = d3.scaleLinear().domain([0, 0.5, 1]).range(['#cfeac6', '#6bbf9c', '#1d5866']);
    svg.append('rect').attr('x', x0).attr('y', 498.3).attr('width', x1 - x0).attr('height', y0 - 498.3).attr('fill', '#b3b3b3');
    addText((x0 + x1) / 2, 510, 'Local explanation summary', 8.5, { anchor: 'middle', fill: '#fff' });
    hGrid(rowY, d3.range(featureName.length), x0, x1, gridMajor, 0.9);
    svg.append('line').attr('x1', xG(0)).attr('x2', xG(0)).attr('y1', y0).attr('y2', y1)
        .attr('stroke', '#8c8c8c').attr('stroke-width', 1);

    const r = 2.2;
    function swarm(points, yc) {
        const placed = [];
        points.slice().sort((a, b) => a[0] - b[0]).forEach(p => {
            const px = xG(p[0]);
            let best = 0, bestScore = -Infinity;
            for (let k = 0; k <= 16; k++) {
                const off = (k % 2 ? 1 : -1) * Math.ceil(k / 2) * 0.9;
                let minD = Infinity;
                placed.forEach(q => {
                    const dd = Math.hypot(q.x - px, q.y - (yc + off));
                    if (dd < minD) minD = dd;
                });
                if (minD >= 2 * r * 0.8) { best = off; break; }
                if (minD > bestScore) { bestScore = minD; best = off; }
            }
            placed.push({ x: px, y: yc + best, v: p[1] });
        });
        return placed;
    }
    shapRows.forEach((row, i) => {
        const placed = swarm(row, rowY(i));
        svg.append('g').selectAll('circle').data(placed).join('circle')
            .attr('cx', d => d.x).attr('cy', d => d.y).attr('r', r)
            .attr('fill', d => colorG(d.v)).attr('fill-opacity', 0.85);
    });
    frame(x0, y0, x1, y1);
    addText(x0 + 1, 521.5, 'No MA RSV', 9, { fill: '#d9915a' });
    addText(x1 - 1, 521.5, 'MA RSV', 9, { anchor: 'end', fill: '#c75050' });
    drawAxis(d3.axisBottom(xG).tickValues([-0.1, -0.05, 0, 0.05, 0.1]).tickFormat(d => d.toFixed(2)).tickSize(3), 0, y1);
    addText(592, 704, 'SHAP value', 11.5, { anchor: 'middle' });
    addText(592, 715, '(impact on model output)', 10, { anchor: 'middle', fill: '#222' });

    // colour bar
    const grad = svg.append('defs').append('linearGradient').attr('id', 'fvGrad')
        .attr('x1', 0).attr('y1', 1).attr('x2', 0).attr('y2', 0);
    [0, 0.5, 1].forEach(s => grad.append('stop').attr('offset', s).attr('stop-color', colorG(s)));
    svg.append('rect').attr('x', 698).attr('y', 543).attr('width', 5).attr('height', 109).attr('fill', 'url(#fvGrad)');
    addText(707, 547, 'High', 9, { fill: '#222' });
    addText(707, 656, 'Low', 9, { fill: '#222' });
    addText(693, 597, 'Feature value', 11, { anchor: 'middle', rotate: -90 });
})();
</script>
</body>
</html>
